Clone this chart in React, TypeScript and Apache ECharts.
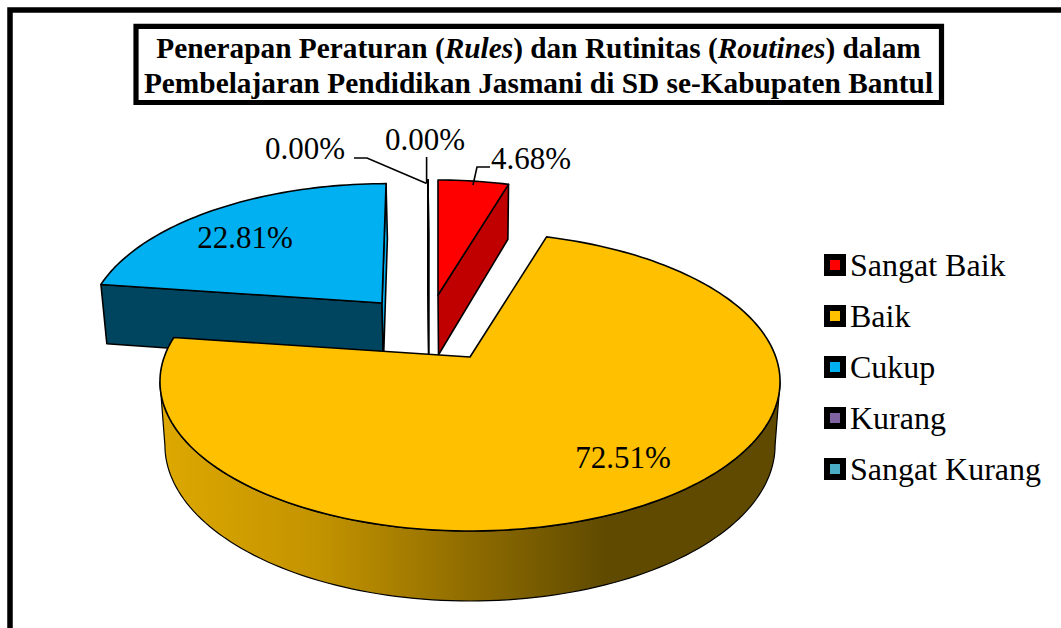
import React, { useEffect, useRef } from "react";
import * as echarts from "echarts";

const categories = ["Sangat Baik", "Baik", "Cukup", "Kurang", "Sangat Kurang"];
const percentages = [4.68, 72.51, 22.81, 0.0, 0.0];
const titleLines = [
  "Penerapan Peraturan ({i|Rules}) dan Rutinitas ({i|Routines}) dalam",
  "Pembelajaran Pendidikan Jasmani di SD se-Kabupaten Bantul",
];
const colors = ["#FF0000", "#FFC000", "#00B0F0", "#8064A2", "#4BACC6"];

const SERIF = "Liberation Serif";
const A = 305.8;
const B = 145.3;
const K = 0.165;
const RAD = Math.PI / 180;

type Layout = {
  apex: [number, number];
  r: number;
  z: number;
  lean?: number;
  startFace?: string;
  endFace?: string;
  wall?: boolean;
  label: [number, number];
  leader?: [number, number][];
};

const layouts: Layout[] = [
  { apex: [438, 295], r: 0.91, z: 3, endFace: "#C00000", label: [531, 158], leader: [[490, 167], [477, 167], [473, 185]] },
  { apex: [470, 357], r: 1, z: 5, wall: true, label: [623, 457] },
  { apex: [382, 303], r: 0.95, z: 2, lean: 0.034, startFace: "#00455F", endFace: "#00B0F0", label: [245, 237] },
  { apex: [428, 295], r: 0.91, z: 3, endFace: "#FFFFFF", label: [425, 139], leader: [[426.6, 157], [426.6, 183]] },
  { apex: [428, 295], r: 0.91, z: 3, endFace: "#FFFFFF", label: [305, 148], leader: [[354, 158], [367, 158], [426.6, 183.6]] },
];

const pt = (deg: number, layout: Layout): [number, number] => {
  const X = layout.r * Math.sin(deg * RAD);
  const Y = -layout.r * Math.cos(deg * RAD);
  const w = 1 - K * Y;
  const y = layout.apex[1] + (B * Y) / w;
  const x = layout.apex[0] + (A * X) / w + (layout.lean ?? 0) * (layout.apex[1] - y);
  return [x, y];
};
const down = (p: [number, number]): [number, number] => {
  const depth = 55 + ((p[1] - 186) * 15) / 345;
  return [470 + 0.984 * (p[0] - 470), p[1] + depth];
};
const arc = (from: number, to: number, layout: Layout) => {
  const out: [number, number][] = [];
  const n = Math.max(1, Math.ceil(Math.abs(to - from) / 1.5));
  for (let i = 0; i <= n; i++) out.push(pt(from + ((to - from) * i) / n, layout));
  return out;
};

const makeRender = (idx: number) => (_params: any, api: any) => {
  const value = api.value(0) as number;
  const layout = layouts[idx];
  const start = (percentages.slice(0, idx).reduce((s, v) => s + v, 0) / 100) * 360;
  const end = start + (value / 100) * 360;
  const children: any[] = [];
  const edge = { stroke: "#000", lineWidth: 1.6, lineJoin: "round" };

  const face = (deg: number, fill: string) => {
    const o = pt(deg, layout);
    children.push({
      type: "polygon",
      shape: { points: [layout.apex, o, down(o), down(layout.apex)] },
      style: { fill, ...edge },
    });
  };
  if (layout.startFace) face(start, layout.startFace);
  if (layout.endFace) face(end, layout.endFace);
  if (layout.wall) {
    const sil = Math.acos(-K) / RAD;
    const top = arc(sil, 360 - sil, layout);
    const bottom = top.map(down).reverse();
    children.push({
      type: "polygon",
      shape: { points: [...top, ...bottom] },
      style: {
        fill: new echarts.graphic.LinearGradient(0, 0, 1, 0, [
          { offset: 0, color: "#DDA800" },
          { offset: 0.25, color: "#C49400" },
          { offset: 0.5, color: "#8F6C00" },
          { offset: 0.72, color: "#5F4A00" },
          { offset: 1, color: "#5F4A00" },
        ]),
        stroke: "#000",
        lineWidth: 1.2,
      },
    });
  }
  children.push({
    type: "polygon",
    shape: { points: [layout.apex, ...arc(start, end, layout)] },
    style: { fill: colors[idx], ...edge },
  });
  if (layout.leader) {
    children.push({
      type: "polyline",
      shape: { points: layout.leader },
      style: { fill: "none", stroke: "#000", lineWidth: 1.6 },
    });
  }
  children.push({
    type: "text",
    x: layout.label[0],
    y: layout.label[1],
    style: {
      text: value.toFixed(2) + "%",
      fill: "#000",
      fontFamily: SERIF,
      fontSize: 31,
      textAlign: "center",
      textVerticalAlign: "middle",
    },
  });
  return { type: "group", children };
};

export default function App() {
  const ref = useRef<HTMLDivElement>(null);
  useEffect(() => {
    document.body.style.margin = "0";
    const chart = echarts.init(ref.current!, undefined, { renderer: "svg" });
    chart.setOption({
      animation: false,
      backgroundColor: "#fff",
      title: {
        text: titleLines.join("\n"),
        left: 538.5,
        top: 30,
        textAlign: "center",
        padding: 0,
        textStyle: {
          fontFamily: SERIF,
          fontWeight: "bold",
          fontSize: 29.35,
          lineHeight: 35,
          color: "#000",
          rich: {
            i: { fontFamily: SERIF, fontWeight: "bold", fontStyle: "italic", fontSize: 29.35, lineHeight: 35, color: "#000" },
          },
        },
      },
      legend: {
        orient: "vertical",
        left: 824,
        top: 249,
        padding: 0,
        itemWidth: 16,
        itemHeight: 16,
        itemGap: 19,
        icon: "rect",
        selectedMode: false,
        data: categories,
        itemStyle: { borderColor: "#000", borderWidth: 6 },
        textStyle: { fontFamily: SERIF, fontSize: 32, color: "#000", padding: [0, 0, 0, 2] },
      },
      graphic: [
        { type: "rect", shape: { x: 10, y: 10, width: 1200, height: 800 }, style: { fill: "none", stroke: "#000", lineWidth: 5.5 }, silent: true },
        { type: "rect", shape: { x: 136, y: 26.3, width: 805.5, height: 76.2 }, style: { fill: "none", stroke: "#000", lineWidth: 5.2 }, silent: true },
      ],
      series: categories.map((name, i) => ({
        type: "custom",
        name,
        coordinateSystem: "none",
        z: layouts[i].z,
        silent: true,
        itemStyle: { color: colors[i] },
        data: [[percentages[i]]],
        renderItem: makeRender(i),
      })),
    });
    return () => chart.dispose();
  }, []);
  return (
    <div
      ref={ref}
      style={{ position: "fixed", left: 0, top: 0, width: 1061, height: 628, overflow: "hidden" }}
    />
  );
}
